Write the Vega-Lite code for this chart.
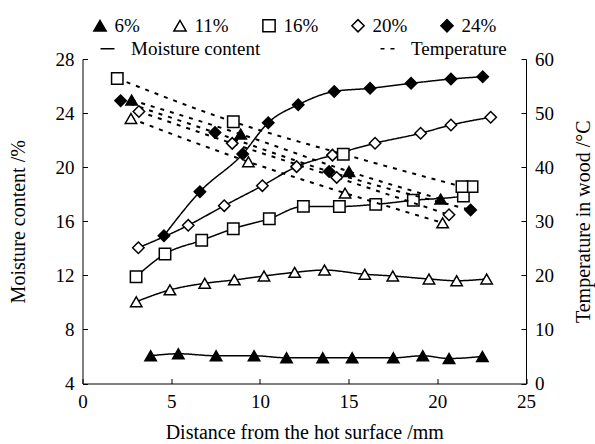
{
  "$schema": "https://vega.github.io/schema/vega-lite/v6.json",
  "width": 443.5,
  "height": 324.5,
  "autosize": {"type": "none"},
  "padding": {"left": 82.5, "top": 59, "right": 69, "bottom": 60.5},
  "background": "white",
  "config": {
    "view": {"stroke": null},
    "font": "Liberation Serif",
    "axis": {
      "grid": false,
      "domainColor": "black",
      "domainWidth": 1,
      "tickColor": "black",
      "tickWidth": 1,
      "tickSize": -5,
      "labelFont": "Liberation Serif",
      "labelFontSize": 19,
      "labelColor": "black",
      "labelPadding": 13.5,
      "labelFlush": false,
      "titleFont": "Liberation Serif",
      "titleFontSize": 20,
      "titleFontWeight": "normal",
      "titleColor": "black"
    },
    "legend": {
      "labelFont": "Liberation Serif",
      "labelFontSize": 19,
      "labelColor": "black",
      "padding": 0
    }
  },
  "datasets": {
    "moisture": [
      {"series": "6%", "d": 3.84, "m": 6.05},
      {"series": "6%", "d": 5.4, "m": 6.2},
      {"series": "6%", "d": 7.53, "m": 6.05},
      {"series": "6%", "d": 9.67, "m": 6.05},
      {"series": "6%", "d": 11.5, "m": 5.9},
      {"series": "6%", "d": 13.54, "m": 5.9},
      {"series": "6%", "d": 15.2, "m": 5.9},
      {"series": "6%", "d": 17.52, "m": 5.9},
      {"series": "6%", "d": 19.18, "m": 6.05},
      {"series": "6%", "d": 20.66, "m": 5.85},
      {"series": "6%", "d": 22.54, "m": 6.0},
      {"series": "11%", "d": 3.03, "m": 10.05},
      {"series": "11%", "d": 4.93, "m": 10.92},
      {"series": "11%", "d": 6.89, "m": 11.41},
      {"series": "11%", "d": 8.56, "m": 11.66},
      {"series": "11%", "d": 10.23, "m": 11.95},
      {"series": "11%", "d": 11.96, "m": 12.22},
      {"series": "11%", "d": 13.64, "m": 12.39},
      {"series": "11%", "d": 15.91, "m": 12.08},
      {"series": "11%", "d": 17.49, "m": 11.95},
      {"series": "11%", "d": 19.53, "m": 11.73},
      {"series": "11%", "d": 21.09, "m": 11.6},
      {"series": "11%", "d": 22.78, "m": 11.73},
      {"series": "16%", "d": 3.02, "m": 11.9},
      {"series": "16%", "d": 4.65, "m": 13.58},
      {"series": "16%", "d": 6.72, "m": 14.59},
      {"series": "16%", "d": 8.5, "m": 15.45},
      {"series": "16%", "d": 10.53, "m": 16.19},
      {"series": "16%", "d": 12.45, "m": 17.1},
      {"series": "16%", "d": 14.48, "m": 17.09},
      {"series": "16%", "d": 16.53, "m": 17.25},
      {"series": "16%", "d": 18.65, "m": 17.55},
      {"series": "16%", "d": 21.47, "m": 17.87},
      {"series": "16%", "d": 21.96, "m": 18.56},
      {"series": "20%", "d": 3.15, "m": 14.04},
      {"series": "20%", "d": 5.96, "m": 15.7},
      {"series": "20%", "d": 7.99, "m": 17.15},
      {"series": "20%", "d": 10.14, "m": 18.63},
      {"series": "20%", "d": 12.07, "m": 20.04},
      {"series": "20%", "d": 14.09, "m": 20.89},
      {"series": "20%", "d": 16.49, "m": 21.77},
      {"series": "20%", "d": 19.06, "m": 22.51},
      {"series": "20%", "d": 20.77, "m": 23.12},
      {"series": "20%", "d": 23.01, "m": 23.69},
      {"series": "24%", "d": 4.59, "m": 14.93},
      {"series": "24%", "d": 6.62, "m": 18.19},
      {"series": "24%", "d": 9.03, "m": 20.97},
      {"series": "24%", "d": 10.47, "m": 23.29},
      {"series": "24%", "d": 12.16, "m": 24.62},
      {"series": "24%", "d": 14.19, "m": 25.6},
      {"series": "24%", "d": 16.21, "m": 25.83},
      {"series": "24%", "d": 18.52, "m": 26.2},
      {"series": "24%", "d": 20.77, "m": 26.52},
      {"series": "24%", "d": 22.56, "m": 26.69}
    ],
    "temperature": [
      {"series": "6%", "d": 2.77, "t": 52.4},
      {"series": "6%", "d": 8.92, "t": 46.1},
      {"series": "6%", "d": 15.02, "t": 39.2},
      {"series": "6%", "d": 20.19, "t": 34.1},
      {"series": "11%", "d": 2.73, "t": 49.0},
      {"series": "11%", "d": 9.35, "t": 41.0},
      {"series": "11%", "d": 14.8, "t": 35.2},
      {"series": "11%", "d": 20.3, "t": 29.7},
      {"series": "16%", "d": 1.96, "t": 56.4},
      {"series": "16%", "d": 8.5, "t": 48.4},
      {"series": "16%", "d": 14.7, "t": 42.4},
      {"series": "16%", "d": 21.39, "t": 36.4},
      {"series": "20%", "d": 3.18, "t": 50.3},
      {"series": "20%", "d": 8.44, "t": 44.4},
      {"series": "20%", "d": 14.33, "t": 38.1},
      {"series": "20%", "d": 20.66, "t": 31.2},
      {"series": "24%", "d": 2.15, "t": 52.3},
      {"series": "24%", "d": 7.47, "t": 46.4},
      {"series": "24%", "d": 13.9, "t": 39.2},
      {"series": "24%", "d": 21.88, "t": 32.1}
    ]
  },
  "layer": [
    {
      "data": {"name": "moisture"},
      "encoding": {
        "x": {
          "field": "d", "type": "quantitative",
          "scale": {"domain": [0, 25], "nice": false, "zero": false},
          "axis": {"values": [0, 5, 10, 15, 20, 25], "title": "Distance from the hot surface /mm", "titlePadding": 11}
        },
        "y": {
          "field": "m", "type": "quantitative",
          "scale": {"domain": [4, 28], "nice": false, "zero": false},
          "axis": {"orient": "left", "values": [4, 8, 12, 16, 20, 24, 28], "title": "Moisture content /%", "titlePadding": 27}
        }
      },
      "layer": [
        {
          "mark": {"type": "line", "interpolate": "monotone", "stroke": "black", "strokeWidth": 1.5},
          "encoding": {
            "detail": {"field": "series"},
            "strokeDash": {
              "datum": "Moisture content", "type": "nominal",
              "scale": {"domain": ["Moisture content", "Temperature"], "range": [[1, 0], [4, 6]]},
              "legend": {"orient": "none", "legendX": 15.5, "legendY": -20, "direction": "horizontal", "title": null, "symbolType": "stroke", "symbolStrokeColor": "black", "symbolStrokeWidth": 1.5, "symbolSize": 196, "labelOffset": 14, "columnPadding": 116}
            }
          }
        },
        {
          "mark": {"type": "point", "filled": true, "stroke": "black", "strokeWidth": 1.5, "opacity": 1, "size": 130},
          "encoding": {
            "shape": {
              "field": "series", "type": "nominal",
              "scale": {"domain": ["6%", "11%", "16%", "20%", "24%"], "range": ["triangle-up", "triangle-up", "square", "diamond", "diamond"]},
              "legend": {"orient": "none", "legendX": 8, "legendY": -43, "direction": "horizontal", "title": null, "symbolSize": 150, "labelOffset": 5, "columnPadding": 30, "encode": {"symbols": {"update": {"stroke": {"value": "black"}, "strokeWidth": {"value": 1.5}, "opacity": {"value": 1}}}}}
            },
            "fill": {
              "field": "series", "type": "nominal",
              "scale": {"domain": ["6%", "11%", "16%", "20%", "24%"], "range": ["black", "white", "white", "white", "black"]},
              "legend": {"orient": "none", "legendX": 8, "legendY": -43, "direction": "horizontal", "title": null, "symbolSize": 150, "labelOffset": 5, "columnPadding": 30, "encode": {"symbols": {"update": {"stroke": {"value": "black"}, "strokeWidth": {"value": 1.5}, "opacity": {"value": 1}}}}}
            }
          }
        }
      ]
    },
    {
      "data": {"name": "temperature"},
      "encoding": {
        "x": {"field": "d", "type": "quantitative", "scale": {"domain": [0, 25], "nice": false, "zero": false}},
        "y": {
          "field": "t", "type": "quantitative",
          "scale": {"domain": [0, 60], "nice": false},
          "axis": {"orient": "right", "values": [0, 10, 20, 30, 40, 50, 60], "title": "Temperature in wood /°C", "titleAngle": 270, "titlePadding": 40}
        }
      },
      "layer": [
        {
          "mark": {"type": "line", "interpolate": "monotone", "stroke": "black", "strokeWidth": 2},
          "encoding": {
            "detail": {"field": "series"},
            "strokeDash": {"datum": "Temperature", "type": "nominal"}
          }
        },
        {
          "mark": {"type": "point", "filled": true, "stroke": "black", "strokeWidth": 1.5, "opacity": 1, "size": 130},
          "encoding": {
            "shape": {"field": "series", "type": "nominal"},
            "fill": {"field": "series", "type": "nominal"}
          }
        }
      ]
    }
  ],
  "resolve": {"scale": {"y": "independent"}}
}
